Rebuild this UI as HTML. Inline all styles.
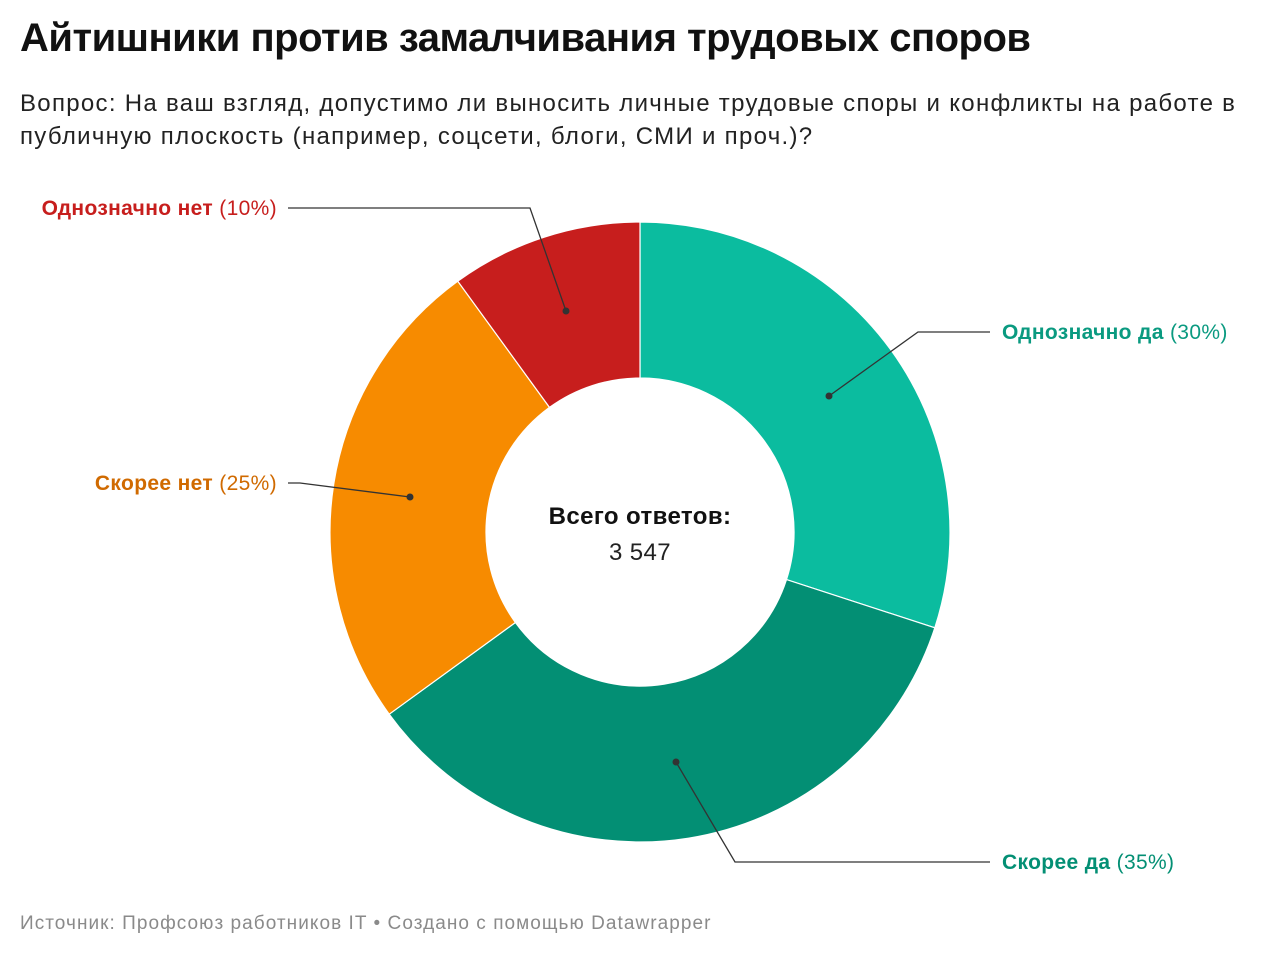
<!DOCTYPE html>
<html><head><meta charset="utf-8"><style>
body{margin:0;width:1280px;height:957px;background:#fff;font-family:"Liberation Sans",sans-serif;overflow:hidden;position:relative}
.t{position:absolute;left:20px;top:16px;font-size:40px;font-weight:bold;color:#111;letter-spacing:-0.5px}
.s{position:absolute;left:20px;top:87px;font-size:24px;letter-spacing:1.3px;line-height:33px;color:#222;width:1255px}
.f{position:absolute;left:20px;top:913px;font-size:19px;letter-spacing:1.05px;color:#8a8a8a}
</style></head><body>
<div class="t">Айтишники против замалчивания трудовых споров</div>
<div class="s">Вопрос: На ваш взгляд, допустимо ли выносить личные трудовые споры и конфликты на работе в публичную плоскость (например, соцсети, блоги, СМИ и проч.)?</div>
<svg width="1280" height="957" style="position:absolute;left:0;top:0">
<g stroke="#fff" stroke-width="1.2">
<path d="M640 222 A310 310 0 0 1 934.8 627.8 L786.5 579.6 A154 154 0 0 0 640 378 Z" fill="#0bbc9f"/>
<path d="M934.8 627.8 A310 310 0 0 1 389.2 714.2 L515.4 622.5 A154 154 0 0 0 786.5 579.6 Z" fill="#038f74"/>
<path d="M389.2 714.2 A310 310 0 0 1 457.8 281.2 L549.5 407.4 A154 154 0 0 0 515.4 622.5 Z" fill="#f78b00"/>
<path d="M457.8 281.2 A310 310 0 0 1 640 222 L640 378 A154 154 0 0 0 549.5 407.4 Z" fill="#c71e1d"/>
</g>
<g stroke="#333" stroke-width="1.3" fill="none">
<polyline points="288,208 530,208 566,311"/>
<polyline points="829,396 918,332 990,332"/>
<polyline points="288,483 300,483 410,497"/>
<polyline points="676,762 735,862 990,862"/>
</g>
<g fill="#333"><circle cx="566" cy="311" r="3.5"/><circle cx="829" cy="396" r="3.5"/><circle cx="410" cy="497" r="3.5"/><circle cx="676" cy="762" r="3.5"/></g>
<g font-size="21" letter-spacing="0.35" font-family="Liberation Sans,sans-serif">
<text x="277" y="215" text-anchor="end" fill="#c71e1d"><tspan font-weight="bold">Однозначно нет</tspan> (10%)</text>
<text x="1002" y="339" fill="#0a9a80"><tspan font-weight="bold">Однозначно да</tspan> (30%)</text>
<text x="277" y="490" text-anchor="end" fill="#d06a00"><tspan font-weight="bold">Скорее нет</tspan> (25%)</text>
<text x="1002" y="869" fill="#038f74"><tspan font-weight="bold">Скорее да</tspan> (35%)</text>
</g>
<text x="640" y="524" text-anchor="middle" font-size="24" letter-spacing="0.4" font-weight="bold" fill="#111" font-family="Liberation Sans,sans-serif">Всего ответов:</text>
<text x="640" y="560" text-anchor="middle" font-size="24" letter-spacing="0.4" fill="#222" font-family="Liberation Sans,sans-serif">3 547</text>
</svg>
<div class="f">Источник: Профсоюз работников IT • Создано с помощью Datawrapper</div>
</body></html>
